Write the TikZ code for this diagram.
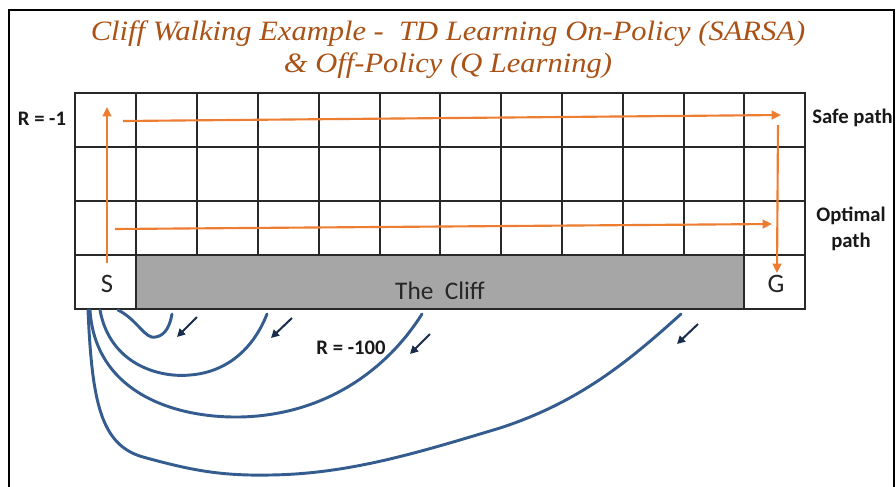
\documentclass[tikz,border=0pt]{standalone}
\usepackage{fontspec}
\setmainfont{Liberation Serif}
\newfontfamily\calib{Carlito}
\usetikzlibrary{arrows.meta}
\definecolor{titlebrown}{RGB}{170,82,22}
\definecolor{pathorange}{RGB}{237,125,49}
\definecolor{fallblue}{RGB}{52,92,142}
\definecolor{arrownavy}{RGB}{25,45,75}
\definecolor{cliffgray}{RGB}{166,166,166}
\definecolor{gridcol}{RGB}{40,40,40}
\begin{document}
\begin{tikzpicture}[x=0.75pt,y=-0.75pt,
  titletext/.style={text=titlebrown,font=\fontsize{21}{24}\selectfont\itshape,inner sep=0pt,xscale=1.09},
  gridline/.style={draw=gridcol,line width=0.9pt},
  cellletter/.style={font=\calib\fontsize{20}{24}\selectfont,text=black!85,inner sep=0pt},
  sidelabel/.style={font=\calib\bfseries\fontsize{15.5}{19}\selectfont,text=black!90,inner sep=0pt},
  orangepath/.style={draw=pathorange,line width=1.6pt,-{Triangle[length=7pt,width=6.5pt]}},
  fallcurve/.style={draw=fallblue,line width=2.2pt,line cap=round},
  fallarrow/.style={draw=arrownavy,line width=1.5pt,-{Triangle[length=6pt,width=6pt]}}
]
\useasboundingbox (0,0) rectangle (896,486);
\fill[white] (0,0) rectangle (896,486);
% title
\node[titletext] (title1) at (448,34) {Cliff Walking Example -\ \ TD Learning On-Policy (SARSA)};
\node[titletext] (title2) at (448,66) {\& Off-Policy (Q Learning)};
% cliff
\fill[cliffgray] (136,255) rectangle (744,309);
% grid
\draw[gridline] (75,93) rectangle (805,309);
\foreach \yy in {147,201,255} \draw[gridline] (75,\yy) -- (805,\yy);
\foreach \xx in {136,197,258,319,380,440,501,562,623,684,744} \draw[gridline] (\xx,93) -- (\xx,255);
\draw[gridline] (136,255) -- (136,309);
\draw[gridline] (744,255) -- (744,309);
% cell texts
\node[cellletter] (S) at (107,284) {S};
\node[cellletter] (G) at (776,284) {G};
\node[cellletter,font=\calib\fontsize{19}{23}\selectfont] (cliff) at (440,291) {The\ \ Cliff};
% orange paths
\coordinate (sStart) at (107,263);
\coordinate (sTop) at (107,107);
\coordinate (safeA) at (123,121);
\coordinate (safeB) at (781,115);
\coordinate (downA) at (778,125);
\coordinate (downB) at (777,273);
\coordinate (optA) at (115,229);
\coordinate (optB) at (772,224);
\draw[orangepath] (sStart) -- (sTop);
\draw[orangepath] (safeA) -- (safeB);
\draw[orangepath] (downA) -- (downB);
\draw[orangepath] (optA) -- (optB);
% side labels
\node[sidelabel] (rone) at (42,119) {R = -1};
\node[sidelabel,anchor=west] (safe) at (812,118) {Safe path};
\node[sidelabel,align=center] (opt) at (851,229) {Optimal\\path};
\node[sidelabel] (rhundred) at (351,348) {R = -100};
% falling curves
\draw[fallcurve] (118,310) .. controls (138,320) and (145,340) .. (156,337) .. controls (166,335) and (170,325) .. (172,314);
\draw[fallcurve] (100,310) .. controls (110,365) and (160,378) .. (190,375) .. controls (230,372) and (255,345) .. (267,314);
\draw[fallcurve] (90,310) .. controls (95,390) and (170,418) .. (240,417) .. controls (330,415) and (390,365) .. (422,314);
\draw[fallcurve] (88,310) .. controls (92,400) and (100,445) .. (143,457) .. controls (190,470) and (220,476) .. (270,475) .. controls (350,474) and (420,452) .. (500,428) .. controls (580,402) and (630,360) .. (681,314);
% small arrows
\coordinate (fa1) at (197,317); \coordinate (fb1) at (177,337);
\coordinate (fa2) at (292,318); \coordinate (fb2) at (271,338);
\coordinate (fa3) at (430,334); \coordinate (fb3) at (410,354);
\coordinate (fa4) at (698,324); \coordinate (fb4) at (677,344);
\draw[fallarrow] (fa1) -- (fb1);
\draw[fallarrow] (fa2) -- (fb2);
\draw[fallarrow] (fa3) -- (fb3);
\draw[fallarrow] (fa4) -- (fb4);
% frame (drawn last so it clips the label like the reference)
\fill[white] (894,0) rectangle (896,486);
\draw[line width=2.2pt] (9,490) -- (9,10) -- (894,10) -- (894,490);
\end{tikzpicture}
\end{document}
